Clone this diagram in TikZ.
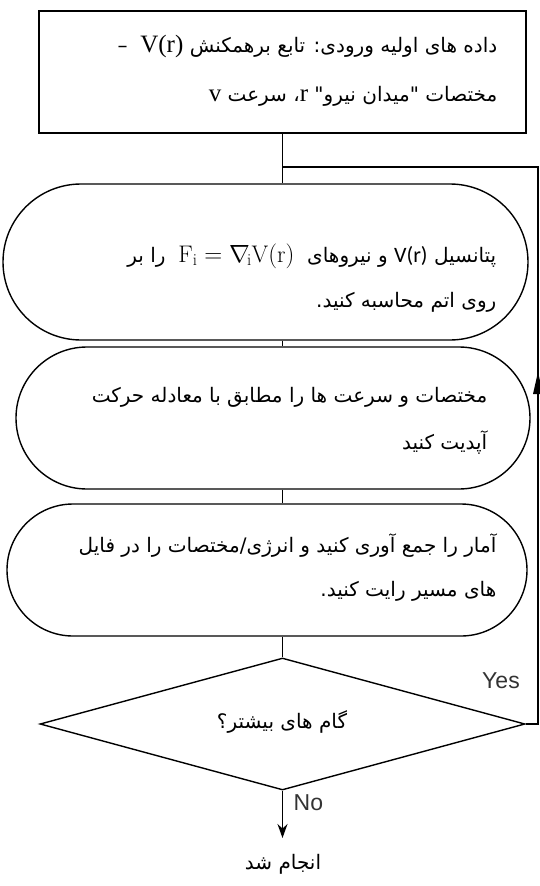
\documentclass[tikz,border=0pt]{standalone}
\usepackage{fontspec}
\usetikzlibrary{shapes.geometric,shapes.misc,arrows.meta}
\TeXXeTstate=1
\newfontfamily\arabicfont[Script=Arabic]{DejaVu Sans}
\newfontfamily\serifrm{Liberation Serif}
\newfontfamily\calib{Carlito}
\newfontfamily\arial{Liberation Sans}
\begin{document}
\begin{tikzpicture}[x=1pt,y=-1pt,line width=1.4pt,
  box/.style={draw,rectangle,inner sep=0pt},
  term/.style={draw,rounded rectangle,inner sep=0pt},
  dec/.style={draw,diamond,inner sep=0pt},
  txt/.style={anchor=east,inner sep=0pt,font=\arabicfont\fontsize{20}{23}\selectfont},
  lab/.style={inner sep=0pt,font=\arial\fontsize{23}{25}\selectfont,text=black!80}]
\useasboundingbox (0,0) rectangle (540,886);
\fill[white] (0,0) rectangle (540,886);
% shapes
\node[box,minimum width=487pt,minimum height=122pt] (top) at (282.5,72) {};
\node[term,minimum width=525pt,minimum height=156pt] (s1) at (265.5,262) {};
\node[term,minimum width=514pt,minimum height=142pt] (s2) at (273,418) {};
\node[term,minimum width=520pt,minimum height=132pt] (s3) at (267,570) {};
\node[dec,minimum width=485pt,minimum height=132pt] (dia) at (282.5,724) {};
% texts
\node[txt] (t1a) at (498,46) {\beginR داده های اولیه ورودی: تابع برهمکنش \beginL{\serifrm\fontsize{25}{27}\selectfont V(r)}\endL{} \ –\endR};
\node[txt] (t1b) at (498,96) {\beginR مختصات "میدان نیرو" \beginL{\serifrm\fontsize{25}{27}\selectfont r}\endL، سرعت \beginL{\serifrm\fontsize{25}{27}\selectfont v}\endL\endR};
\node[txt] (t2a) at (497,256) {\beginR پتانسیل \beginL{\calib\fontsize{22}{24}\selectfont V(r)}\endL{} و نیروهای \ \beginL{\fontsize{24}{26}\selectfont$\mathrm{F_i}=\nabla_{\!\mathrm{i}}\mathrm{V(r)}$}\endL{} \ را بر\endR};
\node[txt] (t2b) at (497,302) {\beginR روی اتم محاسبه کنید.\endR};
\node[txt] (t3a) at (488,397) {\beginR مختصات و سرعت ها را مطابق با معادله حرکت\endR};
\node[txt] (t3b) at (488,443) {\beginR آپدیت کنید\endR};
\node[txt] (t4a) at (497,546) {\beginR آمار را جمع آوری کنید و انرژی/مختصات را در فایل\endR};
\node[txt] (t4b) at (497,591) {\beginR های مسیر رایت کنید.\endR};
\node[txt,anchor=center] (t5) at (282,722) {\beginR گام های بیشتر؟\endR};
\node[txt,anchor=center] (done) at (283,864) {\beginR انجام شد\endR};
\node[lab] (yes) at (501,681) {Yes};
\node[lab,anchor=west] (no) at (293,803) {No};
% connectors
\coordinate (lj) at (282.5,167);
\coordinate (lc) at (538,167);
\coordinate (arrt) at (538,372);
\coordinate (arrb) at (538,394);
\coordinate (endp) at (282.5,838);
\draw (top.south) -- (s1.north -| top.south);
\draw (s1.south -| top.south) -- (s2.north -| top.south);
\draw (s2.south -| top.south) -- (s3.north -| top.south);
\draw (s3.south -| top.south) -- (dia.north);
\draw (dia.east) -- (dia.east -| lc) -- (lc) -- (lj);
\draw[line width=0pt,draw=none,fill=black] (arrt) -- ([xshift=-5pt]arrb) -- ([xshift=5pt]arrb) -- cycle;
\draw[-{Stealth[length=14pt,width=10pt]}] (dia.south) -- (endp);
\end{tikzpicture}
\end{document}
